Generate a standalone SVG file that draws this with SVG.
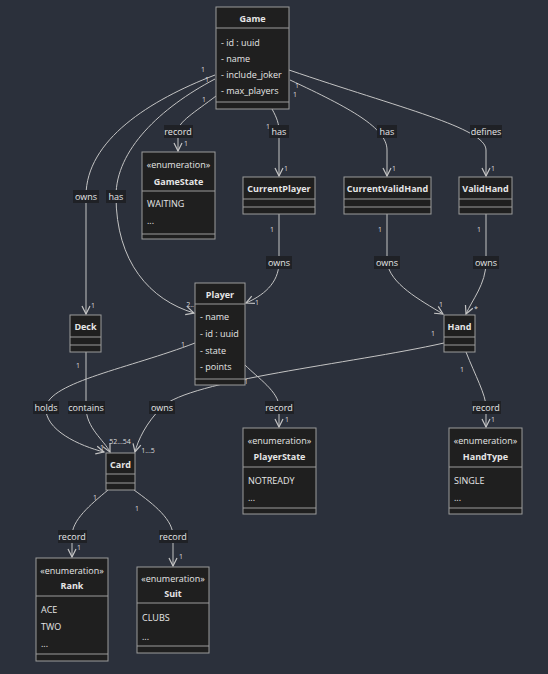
<svg xmlns="http://www.w3.org/2000/svg" width="548" height="674" viewBox="0 0 548 674">
<defs>
<style>
.bg{fill:#2b303b}
.box{fill:#1f1f1f;stroke:#9c9c9c;stroke-width:1}
.sep{stroke:#9c9c9c;stroke-width:1}
.t{font-family:"Open Sans","Liberation Sans",sans-serif;font-size:9px;fill:#e6e6e6;dominant-baseline:central}
.b{font-weight:bold;text-anchor:middle}
.c{text-anchor:middle}
.e{fill:none;stroke:#c4c4c4;stroke-width:1;marker-end:url(#arr)}
.lb{fill:#1f2126}
.m{font-family:"Open Sans","Liberation Sans",sans-serif;font-size:7px;fill:#dcdcdc;dominant-baseline:central;text-anchor:middle}
</style>
<marker id="arr" viewBox="0 0 10 10" refX="9" refY="5" markerWidth="10" markerHeight="10" orient="auto" markerUnits="userSpaceOnUse">
<path d="M1,1 L9,5 L1,9" fill="none" stroke="#c4c4c4" stroke-width="1.2"/>
</marker>
</defs>
<rect class="bg" x="0" y="0" width="548" height="674"/>

<g id="connectors">
<path class="e" d="M215,75 C150,100 86,140 86,196 L86,314"/>
<path class="e" d="M215,79 C160,108 116,150 116,196 C116,262 150,300 194,313"/>
<path class="e" d="M216,96 C195,112 178,122 178,131 L178,151"/>
<path class="e" d="M272,109 C277,118 279,124 279,131 L279,176"/>
<path class="e" d="M290,80 C350,108 387,128 387,150 L387,176"/>
<path class="e" d="M289,70 C400,108 486,128 486,150 L486,176"/>
<path class="e" d="M279,214 L279,262 C279,284 262,296 246,303"/>
<path class="e" d="M387,214 L387,262 C390,284 420,300 443,314"/>
<path class="e" d="M486,214 L486,262 C486,284 472,300 466,314"/>
<path class="e" d="M195,343 C130,368 50,382 46,407 C44,430 80,446 104,452"/>
<path class="e" d="M86,352 L86,407 C86,428 104,440 110,452"/>
<path class="e" d="M444,343 C350,364 190,380 162,407 C146,423 138,440 135,452"/>
<path class="e" d="M245,365 C258,378 279,392 279,407 L279,427"/>
<path class="e" d="M466,352 C475,375 486,395 486,407 L486,427"/>
<path class="e" d="M108,490 C90,505 72,520 72,536 L72,557"/>
<path class="e" d="M134,490 C155,505 173,520 173,536 L173,566"/>

<rect class="lb" x="73" y="190" width="26" height="13"/><text class="t c" x="86" y="196">owns</text>
<rect class="lb" x="106" y="190" width="20" height="13"/><text class="t c" x="116" y="196">has</text>
<rect class="lb" x="164" y="125" width="29" height="13"/><text class="t c" x="178" y="131">record</text>
<rect class="lb" x="269" y="125" width="20" height="13"/><text class="t c" x="279" y="131">has</text>
<rect class="lb" x="377" y="125" width="20" height="13"/><text class="t c" x="387" y="131">has</text>
<rect class="lb" x="470" y="125" width="32" height="13"/><text class="t c" x="486" y="131">defines</text>
<rect class="lb" x="266" y="256" width="26" height="13"/><text class="t c" x="279" y="262">owns</text>
<rect class="lb" x="374" y="256" width="26" height="13"/><text class="t c" x="387" y="262">owns</text>
<rect class="lb" x="473" y="256" width="26" height="13"/><text class="t c" x="486" y="262">owns</text>
<rect class="lb" x="33" y="401" width="26" height="13"/><text class="t c" x="46" y="407">holds</text>
<rect class="lb" x="68" y="401" width="37" height="13"/><text class="t c" x="86" y="407">contains</text>
<rect class="lb" x="149" y="401" width="26" height="13"/><text class="t c" x="162" y="407">owns</text>
<rect class="lb" x="265" y="401" width="29" height="13"/><text class="t c" x="279" y="407">record</text>
<rect class="lb" x="472" y="401" width="29" height="13"/><text class="t c" x="486" y="407">record</text>
<rect class="lb" x="58" y="530" width="29" height="13"/><text class="t c" x="72" y="536">record</text>
<rect class="lb" x="159" y="530" width="29" height="13"/><text class="t c" x="173" y="536">record</text>

<text class="m" x="203" y="69">1</text>
<text class="m" x="207" y="79">1</text>
<text class="m" x="204" y="99">1</text>
<text class="m" x="186" y="143">1</text>
<text class="m" x="268" y="126">1</text>
<text class="m" x="286" y="168">1</text>
<text class="m" x="297" y="85">1</text>
<text class="m" x="295" y="94">1</text>
<text class="m" x="394" y="168">1</text>
<text class="m" x="493" y="168">1</text>
<text class="m" x="93" y="305">1</text>
<text class="m" x="190" y="304">2..</text>
<text class="m" x="272" y="229">1</text>
<text class="m" x="380" y="229">1</text>
<text class="m" x="479" y="229">1</text>
<text class="m" x="257" y="302">1</text>
<text class="m" x="441" y="304">1</text>
<text class="m" x="476" y="308">*</text>
<text class="m" x="183" y="344">1</text>
<text class="m" x="433" y="333">1</text>
<text class="m" x="78" y="365">1</text>
<text class="m" x="246" y="381">1</text>
<text class="m" x="287" y="419">1</text>
<text class="m" x="493" y="419">1</text>
<text class="m" x="462" y="369">1</text>
<text class="m" x="102" y="447">1</text>
<text class="m" x="120" y="441">52...54</text>
<text class="m" x="148" y="450">1...5</text>
<text class="m" x="95" y="497">1</text>
<text class="m" x="137" y="508">1</text>
<text class="m" x="79" y="547">1</text>
<text class="m" x="181" y="556">1</text>
</g>

<g id="Game">
<rect class="box" x="216" y="7" width="73" height="102"/>
<line class="sep" x1="216" y1="28" x2="289" y2="28"/>
<line class="sep" x1="216" y1="102" x2="289" y2="102"/>
<text class="t b" x="252.5" y="18">Game</text>
<text class="t" x="221" y="42">- id : uuid</text>
<text class="t" x="221" y="58">- name</text>
<text class="t" x="221" y="74">- include_joker</text>
<text class="t" x="221" y="90">- max_players</text>
</g>

<g id="GameState">
<rect class="box" x="142" y="152" width="73" height="87"/>
<line class="sep" x1="142" y1="191" x2="215" y2="191"/>
<line class="sep" x1="142" y1="234" x2="215" y2="234"/>
<text class="t c" x="178.5" y="164">«enumeration»</text>
<text class="t b" x="178.5" y="181.5">GameState</text>
<text class="t" x="147" y="203">WAITING</text>
<text class="t" x="147" y="220">...</text>
</g>

<g id="CurrentPlayer">
<rect class="box" x="243" y="177" width="72" height="37"/>
<line class="sep" x1="243" y1="199" x2="315" y2="199"/>
<line class="sep" x1="243" y1="207" x2="315" y2="207"/>
<text class="t b" x="279" y="188">CurrentPlayer</text>
</g>

<g id="CurrentValidHand">
<rect class="box" x="344" y="177" width="87" height="37"/>
<line class="sep" x1="344" y1="199" x2="431" y2="199"/>
<line class="sep" x1="344" y1="207" x2="431" y2="207"/>
<text class="t b" x="387.5" y="188">CurrentValidHand</text>
</g>

<g id="ValidHand">
<rect class="box" x="459" y="177" width="53" height="37"/>
<line class="sep" x1="459" y1="199" x2="512" y2="199"/>
<line class="sep" x1="459" y1="207" x2="512" y2="207"/>
<text class="t b" x="485.5" y="188">ValidHand</text>
</g>

<g id="Player">
<rect class="box" x="195" y="283" width="50" height="102"/>
<line class="sep" x1="195" y1="304" x2="245" y2="304"/>
<line class="sep" x1="195" y1="379" x2="245" y2="379"/>
<text class="t b" x="220" y="294">Player</text>
<text class="t" x="200" y="316.5">- name</text>
<text class="t" x="200" y="333.5">- id : uuid</text>
<text class="t" x="200" y="350">- state</text>
<text class="t" x="200" y="366.5">- points</text>
</g>

<g id="Deck">
<rect class="box" x="70" y="315" width="31" height="37"/>
<line class="sep" x1="70" y1="337" x2="101" y2="337"/>
<line class="sep" x1="70" y1="345" x2="101" y2="345"/>
<text class="t b" x="85.5" y="326">Deck</text>
</g>

<g id="Hand">
<rect class="box" x="444" y="315" width="31" height="37"/>
<line class="sep" x1="444" y1="337" x2="475" y2="337"/>
<line class="sep" x1="444" y1="345" x2="475" y2="345"/>
<text class="t b" x="459.5" y="326">Hand</text>
</g>

<g id="Card">
<rect class="box" x="106" y="453" width="29" height="37"/>
<line class="sep" x1="106" y1="474" x2="135" y2="474"/>
<line class="sep" x1="106" y1="483" x2="135" y2="483"/>
<text class="t b" x="120.5" y="464">Card</text>
</g>

<g id="PlayerState">
<rect class="box" x="243" y="428" width="73" height="86"/>
<line class="sep" x1="243" y1="467" x2="316" y2="467"/>
<line class="sep" x1="243" y1="508" x2="316" y2="508"/>
<text class="t c" x="279.5" y="440">«enumeration»</text>
<text class="t b" x="279.5" y="456">PlayerState</text>
<text class="t" x="248" y="480">NOTREADY</text>
<text class="t" x="248" y="497">...</text>
</g>

<g id="HandType">
<rect class="box" x="449" y="428" width="73" height="86"/>
<line class="sep" x1="449" y1="467" x2="522" y2="467"/>
<line class="sep" x1="449" y1="508" x2="522" y2="508"/>
<text class="t c" x="485.5" y="440">«enumeration»</text>
<text class="t b" x="485.5" y="456">HandType</text>
<text class="t" x="454" y="480">SINGLE</text>
<text class="t" x="454" y="497">...</text>
</g>

<g id="Rank">
<rect class="box" x="36" y="558" width="72" height="103"/>
<line class="sep" x1="36" y1="596" x2="108" y2="596"/>
<line class="sep" x1="36" y1="654" x2="108" y2="654"/>
<text class="t c" x="72" y="570">«enumeration»</text>
<text class="t b" x="72" y="585.5">Rank</text>
<text class="t" x="41" y="609">ACE</text>
<text class="t" x="41" y="626">TWO</text>
<text class="t" x="41" y="643">...</text>
</g>

<g id="Suit">
<rect class="box" x="137" y="567" width="72" height="86"/>
<line class="sep" x1="137" y1="603" x2="209" y2="603"/>
<line class="sep" x1="137" y1="646" x2="209" y2="646"/>
<text class="t c" x="173" y="578">«enumeration»</text>
<text class="t b" x="173" y="593.5">Suit</text>
<text class="t" x="142" y="617.5">CLUBS</text>
<text class="t" x="142" y="636">...</text>
</g>
</svg>
